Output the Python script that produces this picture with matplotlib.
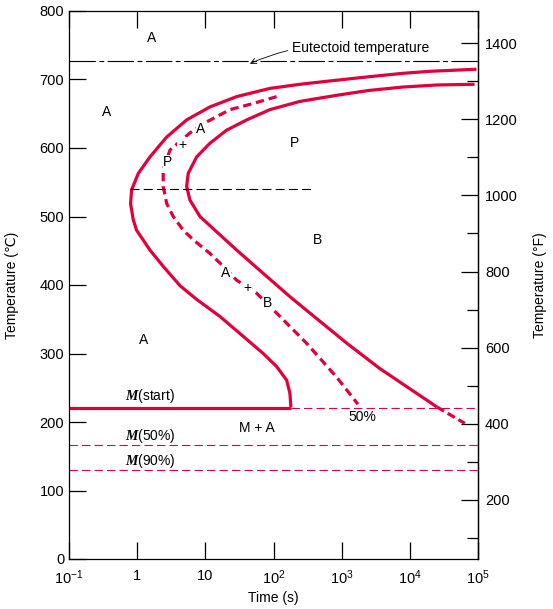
import matplotlib
matplotlib.use("Agg")
import matplotlib.pyplot as plt
from matplotlib.ticker import FixedLocator, NullLocator

plt.rcParams["font.family"] = ["Liberation Sans", "DejaVu Sans"]
plt.rcParams["font.size"] = 10
plt.rcParams["mathtext.fontset"] = "custom"
plt.rcParams["mathtext.bfit"] = "Liberation Serif:italic:bold"
plt.rcParams["lines.scale_dashes"] = False

RED = "#e0003c"

# isothermal transformation curves (time s, temperature C)
start_time = [95000, 20000, 7900, 2500, 850, 244, 88.5, 28.8, 11.7, 5.32, 2.71, 1.54, 1.04, 0.83,
              0.80, 0.877, 0.98, 1.54, 2.42, 4.25, 7.45, 16.4, 36, 70.6, 111, 156,
              174, 180]
start_temp = [715, 712, 709, 704, 699, 693, 687, 675, 660, 641, 616, 587, 563, 539,
              519, 495, 480, 451, 427, 399, 379, 354, 325, 300, 281, 261,
              242, 222]

finish_time = [89000, 25000, 7900, 2500, 851, 244, 88.5, 40.4, 20.5, 11.7, 7.45, 5.61, 5.32, 5.94,
               8.34, 13.8, 28.8, 70.6, 174, 342, 1190, 3630, 24900]
finish_temp = [693, 692, 689, 684, 677, 668, 656, 641, 626, 607, 587, 563, 544, 524,
               500, 480, 451, 417, 383, 359, 315, 278, 222]
finish_tail_time = [24900, 64000]
finish_tail_temp = [222, 198]

half_time = [111, 50.4, 23, 10.4, 5.94, 3.03, 2.41, 2.41, 2.71, 3.38, 4.74, 6.65,
             11.7, 16.4, 28.8, 56.5, 111, 305, 851, 1730]
half_temp = [675, 665, 656, 638, 622, 597, 568, 544, 519, 500, 480, 466,
             446, 432, 407, 388, 359, 315, 265, 226]

eutectoid_temp = 727
nose_temp = 540
nose_time = [0.78, 380]
m_start_temp = 220
m_start_end = 180
m_50_temp = 166
m_90_temp = 130

x_ticks = [0.1, 1, 10, 100, 1000, 10000, 100000]
x_labels = [r"$\mathdefault{10^{-1}}$", "1", "10", r"$\mathdefault{10^{2}}$",
            r"$\mathdefault{10^{3}}$", r"$\mathdefault{10^{4}}$", r"$\mathdefault{10^{5}}$"]
c_ticks = list(range(0, 801, 100))
f_major = [200, 400, 600, 800, 1000, 1200, 1400]
f_minor = [100, 300, 500, 700, 900, 1100, 1300]


def c2f(c):
    # right scale in the picture sits a few degrees off the exact conversion
    return (c + 7) * 1.8 + 32


def f2c(f):
    return (f - 32) / 1.8 - 7


fig = plt.figure(figsize=(5.53, 6.09), dpi=100)
ax = fig.add_axes([69 / 553, 50 / 609, 409 / 553, 548 / 609])
ax.set_xscale("log")
ax.set_xlim(0.1, 1e5)
ax.set_ylim(0, 800)

ax.plot(start_time, start_temp, color=RED, lw=2.3, solid_capstyle="butt")
ax.plot(finish_time, finish_temp, color=RED, lw=2.3, solid_capstyle="butt")
ax.plot(finish_tail_time, finish_tail_temp, color=RED, lw=2.3, dashes=(6, 3))
ax.plot(half_time, half_temp, color=RED, lw=2.3, dashes=(6, 3.5))

ax.axhline(eutectoid_temp, color="black", lw=0.8, dashes=(19, 2.5, 3.5, 2.5))
ax.plot(nose_time, [nose_temp, nose_temp], color="black", lw=0.8, dashes=(6.5, 3))
ax.plot([0.1, m_start_end], [m_start_temp, m_start_temp], color=RED, lw=2.3,
        solid_capstyle="butt")
ax.plot([m_start_end, 1e5], [m_start_temp, m_start_temp], color=RED, lw=0.8, dashes=(6, 3))
ax.axhline(m_50_temp, color=RED, lw=0.8, dashes=(6, 3))
ax.axhline(m_90_temp, color=RED, lw=0.8, dashes=(6, 3))

ax.annotate("Eutectoid temperature", xy=(45, 723), xytext=(186, 746),
            va="center", ha="left",
            arrowprops=dict(arrowstyle="->", lw=0.6, color="black",
                            connectionstyle="arc3,rad=0.15", shrinkA=1, shrinkB=0))

white = dict(facecolor="white", edgecolor="none", pad=0.5)
labels = [
    ("A", 1.65, 761, None), ("A", 0.36, 653, None), ("A", 8.6, 628, white),
    ("+", 4.54, 605, white), ("P", 2.83, 579, white), ("P", 200, 608, None),
    ("B", 447, 466, None), ("A", 20, 418, white), ("+", 40.7, 395, white),
    ("B", 83, 373, white), ("A", 1.26, 319, None), ("M + A", 57, 191, None),
    ("50%", 1980, 207, None),
]
for txt, x, y, box in labels:
    ax.text(x, y, txt, ha="center", va="center", bbox=box)

ax.text(1.54, 238, r"$\mathbfit{M}$(start)", ha="center", va="center")
ax.text(1.54, 179, r"$\mathbfit{M}$(50%)", ha="center", va="center")
ax.text(1.54, 143, r"$\mathbfit{M}$(90%)", ha="center", va="center")

ax.set_xticks(x_ticks)
ax.set_xticklabels(x_labels)
ax.xaxis.set_minor_locator(NullLocator())
ax.tick_params(axis="x", which="major", direction="in", top=True, length=12,
               width=0.9, pad=7, labelsize=10.5)
ax.set_yticks(c_ticks)
ax.tick_params(axis="y", direction="in", length=12, width=0.9, labelsize=10.5)
for sp in ax.spines.values():
    sp.set_linewidth(0.9)

sec = ax.secondary_yaxis("right", functions=(c2f, f2c))
sec.set_yticks(f_major)
sec.yaxis.set_minor_locator(FixedLocator(f_minor))
sec.tick_params(which="major", direction="in", length=12, width=0.9, pad=5, labelsize=10.5)
sec.tick_params(which="minor", direction="in", length=8, width=0.9)
sec.spines["right"].set_linewidth(0.9)

fig.text(12 / 553, 1 - 285 / 609, "Temperature (\u2103)", rotation=90, ha="center", va="center")
fig.text(540 / 553, 1 - 285 / 609, "Temperature (\u00b0F)", rotation=90, ha="center", va="center")
fig.text(273 / 553, 1 - 598 / 609, "Time (s)", ha="center", va="center")

fig.savefig("out.png", dpi=100)
